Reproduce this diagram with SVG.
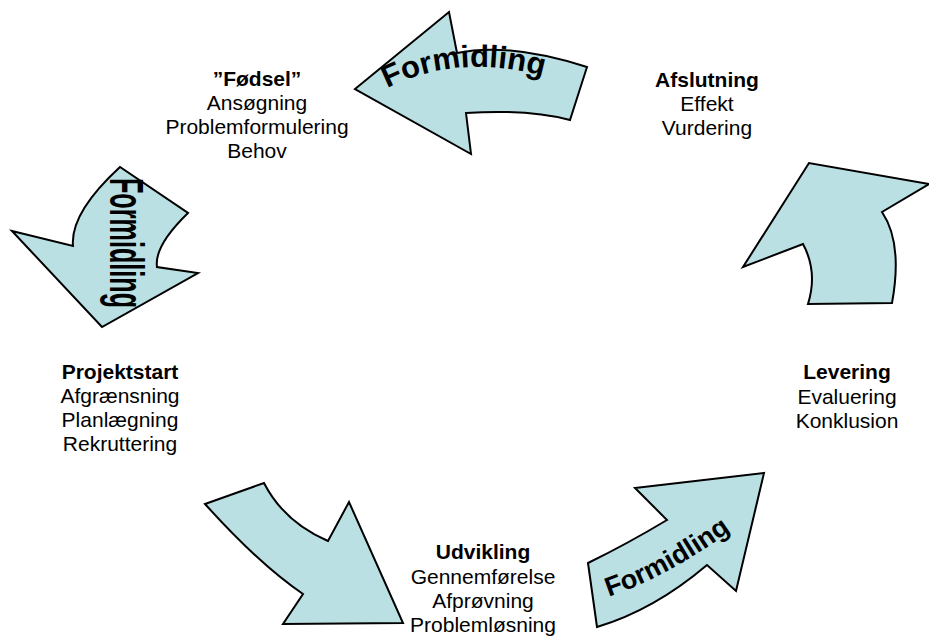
<svg xmlns="http://www.w3.org/2000/svg" width="929" height="637" viewBox="0 0 929 637">
<style>
.arrow{fill:#BAE0E3;stroke:#000;stroke-width:2;stroke-linejoin:miter}
.lbl{font-family:"Liberation Sans",Arial,sans-serif;font-size:21px;fill:#000;text-anchor:middle}
.b{font-weight:bold}
.wa{font-family:"Liberation Sans",Arial,sans-serif;font-weight:bold;fill:#000}
</style>
<defs>
<path id="tp1" d="M 370,98 Q 455,45 562,82"/>
<path id="tp2" d="M 598,600 Q 662,582 740,524"/>
</defs>
<g id="connectors">
<g id="arrow-top">
<path class="arrow" d="M 355,89 L 449,12 L 457,53 Q 508,42 587,67 L 570,120 Q 528,109 466,113 L 471,154 Z"/>
<text class="wa" font-size="31" text-anchor="middle"><textPath href="#tp1" startOffset="50%">Formidling</textPath></text>
</g>
<g id="arrow-left">
<path class="arrow" d="M 12,231 L 73,246 Q 70,213 120,167 L 188,213 Q 154,246 157,267 L 198,273 L 102,327 Z"/>
<text class="wa" font-size="26" transform="translate(110,178) rotate(90) scale(1,1.85)" textLength="130" lengthAdjust="spacingAndGlyphs">Formidling</text>
</g>
<g id="arrow-right">
<path class="arrow" d="M 743,267 L 809,163 L 929,184 L 882,212 Q 903,243 892,303 L 808,304 Q 818,272 803,244 Z"/>
</g>
<g id="arrow-bottom-left">
<path class="arrow" d="M 205,504 L 264,483 Q 284,522 328,541 L 349,502 L 403,623 L 283,624 L 303,594 Q 260,565 205,504 Z"/>
</g>
<g id="arrow-bottom-right">
<path class="arrow" d="M 597,627 L 588,563 Q 627,544 667,520 L 635,488 L 764,473 L 736,591 L 707,565 Q 654,610 597,627 Z"/>
<text class="wa" font-size="27" text-anchor="middle"><textPath href="#tp2" startOffset="50%">Formidling</textPath></text>
</g>
</g>
<g id="node-foedsel">
<text class="lbl b" x="257" y="86">”Fødsel”</text>
<text class="lbl" x="257" y="110">Ansøgning</text>
<text class="lbl" x="257" y="134">Problemformulering</text>
<text class="lbl" x="257" y="158">Behov</text>
</g>
<g id="node-afslutning">
<text class="lbl b" x="707" y="87">Afslutning</text>
<text class="lbl" x="707" y="111">Effekt</text>
<text class="lbl" x="707" y="135">Vurdering</text>
</g>
<g id="node-projektstart">
<text class="lbl b" x="120" y="379">Projektstart</text>
<text class="lbl" x="120" y="403">Afgrænsning</text>
<text class="lbl" x="120" y="427">Planlægning</text>
<text class="lbl" x="120" y="451">Rekruttering</text>
</g>
<g id="node-levering">
<text class="lbl b" x="847" y="379">Levering</text>
<text class="lbl" x="847" y="404">Evaluering</text>
<text class="lbl" x="847" y="428">Konklusion</text>
</g>
<g id="node-udvikling">
<text class="lbl b" x="483" y="559">Udvikling</text>
<text class="lbl" x="483" y="584">Gennemførelse</text>
<text class="lbl" x="483" y="608">Afprøvning</text>
<text class="lbl" x="483" y="632">Problemløsning</text>
</g>
</svg>
